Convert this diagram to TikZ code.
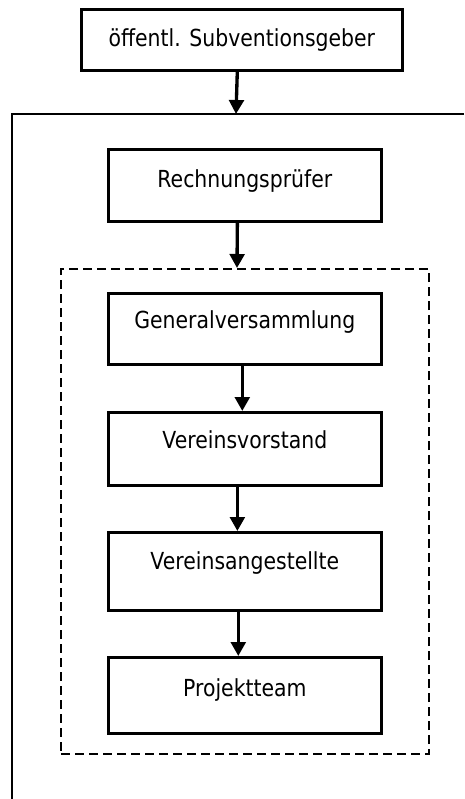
\documentclass[tikz,border=0pt]{standalone}
\usepackage{fontspec}
\setmainfont{DejaVu Sans}[FakeStretch=0.87]
\usetikzlibrary{arrows.meta}
\begin{document}
\begin{tikzpicture}[x=0.75pt,y=-0.75pt,
  every node/.style={font=\fontsize{17.6pt}{20pt}\selectfont},
  orgbox/.style={draw, line width=2pt, inner sep=0pt, anchor=north west, align=center},
  flow/.style={line width=2.5pt, -{Triangle[length=10.5pt,width=11pt]}},
  dashframe/.style={draw, line width=1.5pt, dash pattern=on 6.75pt off 3.75pt, inner sep=0pt, anchor=north west,
    minimum width=276pt, minimum height=363.75pt},
  frameline/.style={line width=2pt}]
\useasboundingbox (0,0) rectangle (464,799);
% outer open frame
\draw[frameline] (464,114) -- (12,114) -- (12,799);
\coordinate (frametop) at (236,114);
% dashed group
\node[dashframe] (grp) at (60,268) {};
% boxes
\node[orgbox, minimum width=240.75pt, text height=27.75pt, text depth=18pt] (sub) at (80,8) {öffentl. Subventionsgeber};
\node[orgbox, minimum width=204.75pt, text height=28.5pt, text depth=25.5pt] (rp) at (107,148) {Rechnungsprüfer};
\node[orgbox, minimum width=204.75pt, text height=26.25pt, text depth=27pt] (gv) at (107,292) {Generalversammlung};
\node[orgbox, minimum width=204.75pt, text height=27pt, text depth=27.75pt] (vv) at (107,411) {Vereinsvorstand};
\node[orgbox, minimum width=204.75pt, text height=27.75pt, text depth=30.75pt] (va) at (107,531) {Vereinsangestellte};
\node[orgbox, minimum width=204.75pt, text height=29.25pt, text depth=27.75pt] (pt) at (107,656) {Projektteam};
% arrows
\draw[flow] ([xshift=-3.4pt]sub.south) -- (frametop);
\draw[flow] ([xshift=-5.6pt]rp.south) -- ([xshift=-6pt]grp.north);
\draw[flow] ([xshift=-1.9pt]gv.south) -- ([xshift=-1.9pt]vv.north);
\draw[flow] ([xshift=-5.6pt]vv.south) -- ([xshift=-5.6pt]va.north);
\draw[flow] ([xshift=-4.9pt]va.south) -- ([xshift=-4.9pt]pt.north);
\end{tikzpicture}
\end{document}
